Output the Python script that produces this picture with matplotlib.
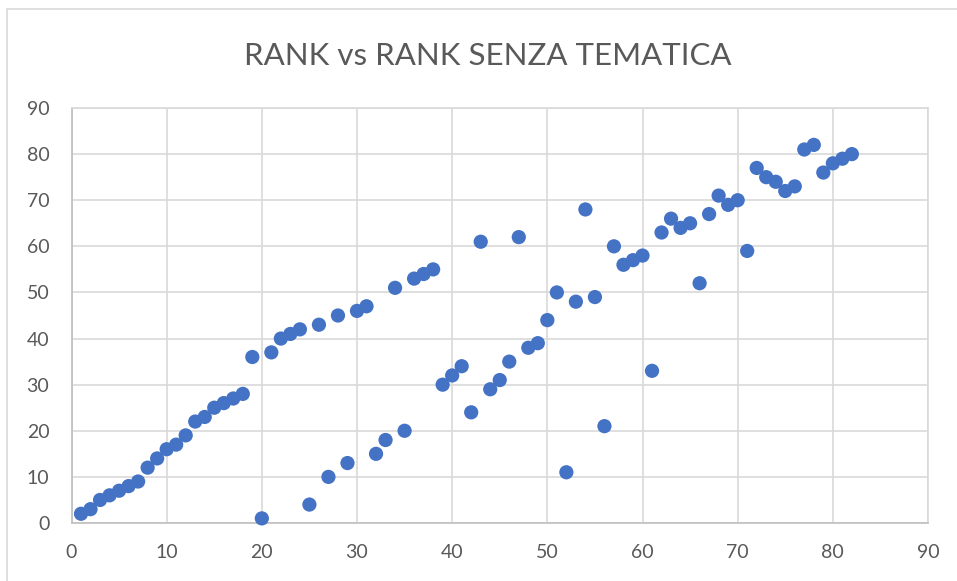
#!/usr/bin/env python3
"""Scatter of RANK vs RANK SENZA TEMATICA."""

import matplotlib.pyplot as plt
from matplotlib.patches import Rectangle

rank = list(range(1, 83))
rank_senza_tematica = [
    2, 3, 5, 6, 7, 8, 9, 12, 14, 16,
    17, 19, 22, 23, 25, 26, 27, 28, 36, 1,
    37, 40, 41, 42, 4, 43, 10, 45, 13, 46,
    47, 15, 18, 51, 20, 53, 54, 55, 30, 32,
    34, 24, 61, 29, 31, 35, 62, 38, 39, 44,
    50, 11, 48, 68, 49, 21, 60, 56, 57, 58,
    33, 63, 66, 64, 65, 52, 67, 71, 69, 70,
    59, 77, 75, 74, 72, 73, 81, 82, 76, 78,
    79, 80,
]
ticks = list(range(0, 91, 10))

TEXT = "#595959"
GRID = "#d9d9d9"
BLUE = "#4472c4"

plt.rcParams["font.family"] = ["Lato", "DejaVu Sans"]

W, H = 957, 581
fig = plt.figure(figsize=(W / 100, H / 100), dpi=100)
fig.patch.set_facecolor("white")

# chart frame (cropped on the right and bottom)
fig.patches.append(Rectangle((7 / W, -0.1), 1.2, 1.1 - 8.5 / H, transform=fig.transFigure,
                             fill=False, edgecolor=GRID, linewidth=1.2))

ax = fig.add_axes([71.5 / W, 1 - 523 / H, (928 - 71.5) / W, (523 - 108) / H])
ax.scatter(rank, rank_senza_tematica, s=105, color=BLUE, edgecolor="none", zorder=3, clip_on=False)

ax.set_xlim(0, 90)
ax.set_ylim(0, 90)
ax.set_xticks(ticks)
ax.set_yticks(ticks)
ax.grid(True, color=GRID, linewidth=1.2)
ax.set_axisbelow(True)
for side in ("top", "right"):
    ax.spines[side].set_color(GRID)
    ax.spines[side].set_linewidth(1.2)
for side in ("left", "bottom"):
    ax.spines[side].set_color("#bfbfbf")
    ax.spines[side].set_linewidth(1.2)
ax.tick_params(length=0, labelsize=14, labelcolor=TEXT)
ax.tick_params(axis="x", pad=15)
ax.tick_params(axis="y", pad=16)

fig.text(488 / W, 1 - 56 / H, "RANK vs RANK SENZA TEMATICA", ha="center", va="center",
         fontsize=22.5, color=TEXT)

fig.savefig("out.png", dpi=100)
